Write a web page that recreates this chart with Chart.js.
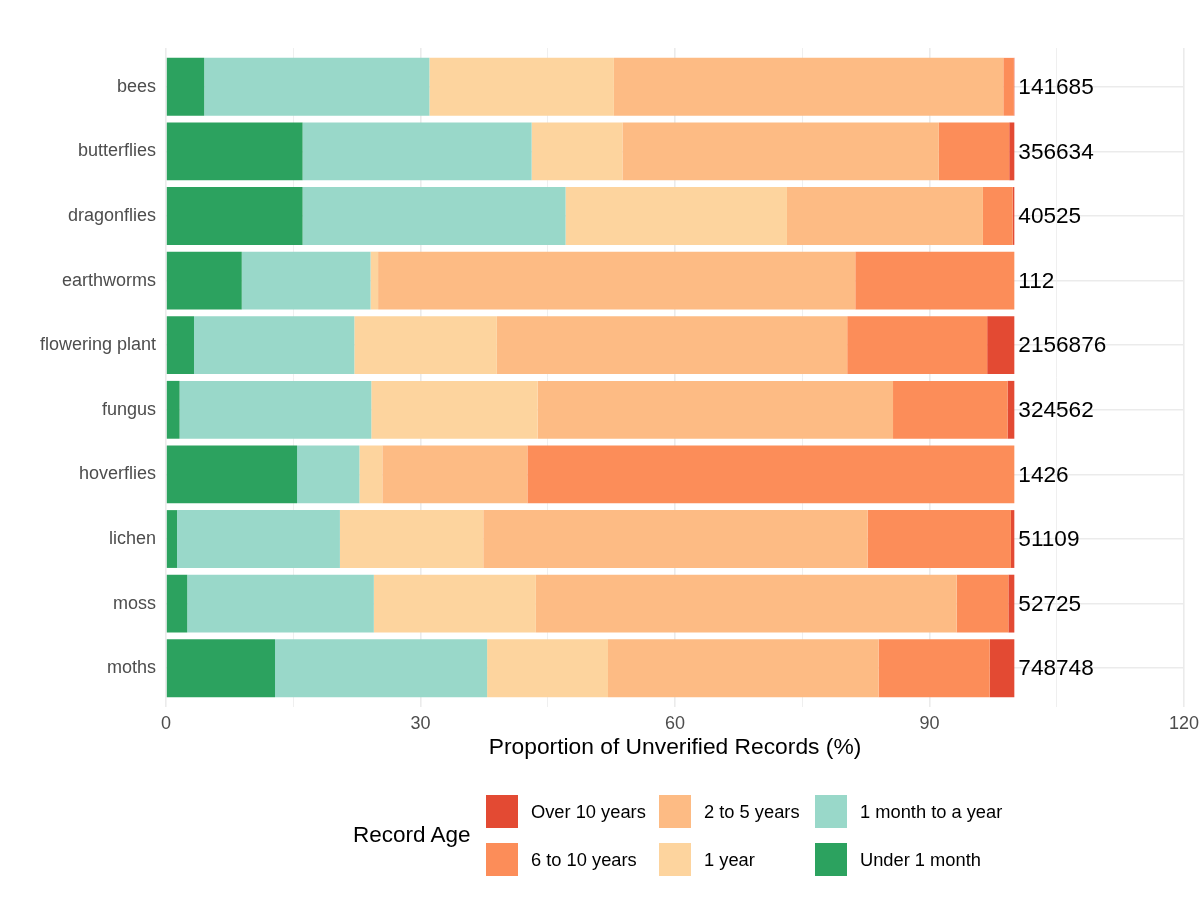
<!DOCTYPE html>
<html>
<head>
<meta charset="utf-8">
<title>Unverified records by age</title>
<script src="https://cdn.jsdelivr.net/npm/chart.js@4.4.1/dist/chart.umd.min.js"></script>
<style>
  body { margin: 0; background: #fff; font-family: "Liberation Sans", Arial, sans-serif; }
  #wrap { position: relative; width: 1200px; height: 900px; }
  #legend { position: absolute; left: 0; top: 0; width: 1200px; height: 900px; pointer-events: none; }
  .leg-title { position: absolute; left: 353px; top: 821px; font-size: 22.5px; color: #000; line-height: 27px; }
  .leg-key { position: absolute; width: 32px; height: 33px; }
  .leg-label { position: absolute; font-size: 18.3px; color: #000; line-height: 22px; }
</style>
</head>
<body>
<div id="wrap">
  <canvas id="chart"></canvas>
  <div id="legend"></div>
</div>
<script>
// Categories (top to bottom)
const groups = ['bees', 'butterflies', 'dragonflies', 'earthworms', 'flowering plant',
    'fungus', 'hoverflies', 'lichen', 'moss', 'moths'];

// Total records per group, printed at the end of each bar
const recordCounts = [141685, 356634, 40525, 112, 2156876, 324562, 1426, 51109, 52725, 748748];

// Share of unverified records (%) per age band
const under1Month = [4.5, 16.1, 16.1, 8.93, 3.3, 1.6, 15.45, 1.3, 2.5, 12.85];
const monthToYear = [26.55, 27.0, 31.0, 15.18, 18.9, 22.6, 7.35, 19.2, 22.0, 25.0];
const oneYear = [21.75, 10.7, 26.1, 0.89, 16.8, 19.6, 2.7, 16.9, 19.1, 14.25];
const twoToFive = [45.9, 37.3, 23.1, 56.25, 41.3, 41.9, 17.1, 45.3, 49.6, 31.9];
const sixToTen = [1.25, 8.3, 3.5, 18.75, 16.5, 13.5, 57.4, 16.9, 6.1, 13.1];
const over10 = [0.05, 0.6, 0.2, 0, 3.2, 0.8, 0, 0.4, 0.7, 2.9];

// x axis ticks (labelled every 30, minor lines every 15)
const xTicks = [0, 30, 60, 90, 120];

const font = '"Liberation Sans", Arial, sans-serif';

// Stacking order left to right
const series = [
    { label: 'Under 1 month', values: under1Month, color: '#2CA25F' },
    { label: '1 month to a year', values: monthToYear, color: '#99D8C9' },
    { label: '1 year', values: oneYear, color: '#FDD49E' },
    { label: '2 to 5 years', values: twoToFive, color: '#FDBB84' },
    { label: '6 to 10 years', values: sixToTen, color: '#FC8D59' },
    { label: 'Over 10 years', values: over10, color: '#E34A33' },
];

/**
 * Record counts written just right of the 100% end of each bar
 */
const countLabels = {
    id: 'countLabels',
    afterDatasetsDraw(chart) {
        const { ctx, scales } = chart;
        ctx.save();
        ctx.font = '22.6px ' + font;
        ctx.fillStyle = '#000';
        ctx.textAlign = 'left';
        ctx.textBaseline = 'middle';
        const x = scales.x.getPixelForValue(100) + 4;
        recordCounts.forEach((count, i) => {
            ctx.fillText(String(count), x, scales.y.getPixelForValue(i) + 1);
        });
        ctx.restore();
    }
};

new Chart(document.getElementById('chart'), {
    type: 'bar',
    data: {
        datasets: series.map((s) => ({
            label: s.label,
            data: s.values.map((v, i) => ({ x: v, y: i })),
            backgroundColor: s.color,
            borderWidth: 0,
            barPercentage: 0.895,
            categoryPercentage: 1.0,
        })),
    },
    options: {
        indexAxis: 'y',
        responsive: true,
        maintainAspectRatio: false,
        animation: false,
        layout: { padding: { top: 48, right: 16, bottom: 139, left: 0 } },
        plugins: {
            legend: { display: false },
            tooltip: { enabled: false },
        },
        scales: {
            x: {
                type: 'linear',
                stacked: true,
                min: 0,
                max: 120,
                border: { display: false },
                grid: {
                    color: '#ebebeb',
                    drawTicks: false,
                    lineWidth: (c) => (c.tick && xTicks.includes(c.tick.value) ? 1.6 : 0.8),
                },
                ticks: {
                    stepSize: 15,
                    padding: 6,
                    color: '#4d4d4d',
                    font: { family: font, size: 18 },
                    callback: (v) => (xTicks.includes(v) ? v : ''),
                },
                title: {
                    display: true,
                    text: 'Proportion of Unverified Records (%)',
                    color: '#000',
                    font: { family: font, size: 22.8 },
                    padding: { top: 0, bottom: 0 },
                },
                afterFit: (scale) => {
                    scale.height = 54;
                    // edge labels may hang past the plot area
                    scale.paddingLeft = 0;
                    scale.paddingRight = 0;
                },
            },
            y: {
                type: 'linear',
                stacked: true,
                reverse: true,
                offset: false,
                min: -0.6,
                max: groups.length - 0.4,
                border: { display: false },
                grid: { color: '#ebebeb', lineWidth: 1.6, drawTicks: false, offset: false },
                afterBuildTicks: (scale) => {
                    scale.ticks = groups.map((g, i) => ({ value: i }));
                },
                ticks: {
                    autoSkip: false,
                    padding: 10,
                    color: '#4d4d4d',
                    font: { family: font, size: 18 },
                    callback: (v) => groups[v],
                },
                afterFit: (scale) => { scale.width = 166; },
            },
        },
    },
    plugins: [countLabels],
});

/**
 * Legend, filled column by column like the original
 */
const legend = document.getElementById('legend');
const legendOrder = ['Over 10 years', '6 to 10 years', '2 to 5 years', '1 year',
    '1 month to a year', 'Under 1 month'];
const keyLefts = [486, 659, 815];
const rowTops = [795, 843];

const title = document.createElement('div');
title.className = 'leg-title';
title.textContent = 'Record Age';
legend.appendChild(title);

legendOrder.forEach((name, i) => {
    const s = series.find((item) => item.label === name);
    const col = Math.floor(i / 2);
    const row = i % 2;
    const key = document.createElement('div');
    key.className = 'leg-key';
    key.style.left = keyLefts[col] + 'px';
    key.style.top = rowTops[row] + 'px';
    key.style.background = s.color;
    legend.appendChild(key);

    const label = document.createElement('div');
    label.className = 'leg-label';
    label.style.left = (keyLefts[col] + 45) + 'px';
    label.style.top = (rowTops[row] + 6) + 'px';
    label.textContent = name;
    legend.appendChild(label);
});
</script>
</body>
</html>
